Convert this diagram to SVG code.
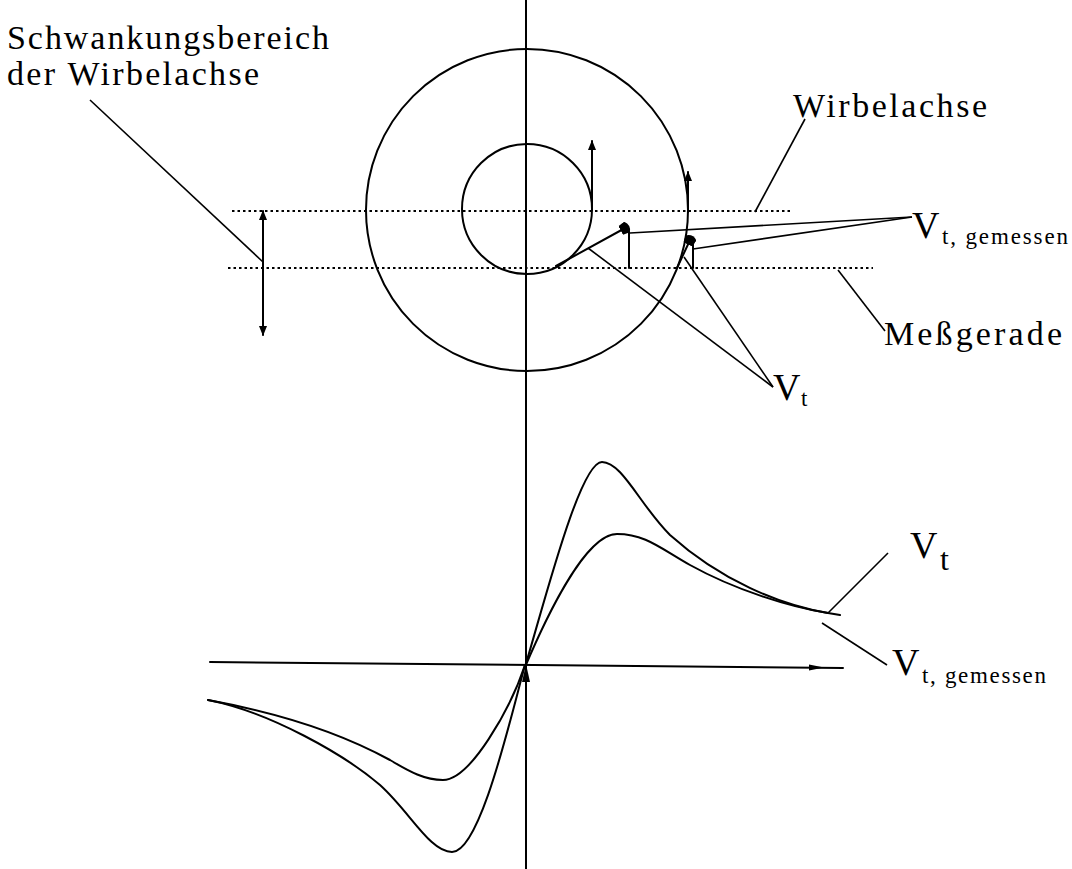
<svg xmlns="http://www.w3.org/2000/svg" width="1072" height="869" viewBox="0 0 1072 869">
<style>
  .ln{fill:none;stroke:#000;stroke-width:2;stroke-linecap:round}
  .thin{fill:none;stroke:#000;stroke-width:1.6}
  .dot{fill:none;stroke:#000;stroke-width:1.8;stroke-dasharray:2.5 3}
  .txt{font-family:"Liberation Serif","Times New Roman",serif;fill:#000}
  .lbl{font-size:34px}
  .big{font-size:38px}
  .sub{font-size:23px}
</style>
<defs>
  <marker id="ah" viewBox="0 0 10 8" refX="9" refY="4" markerWidth="10" markerHeight="8" markerUnits="userSpaceOnUse" orient="auto-start-reverse">
    <path d="M0,0 L10,4 L0,8 z" fill="#000"/>
  </marker>
  <marker id="blob" viewBox="0 0 10 10" refX="6" refY="5" markerWidth="12" markerHeight="12" markerUnits="userSpaceOnUse" orient="auto">
    <path d="M0,1 L6,0 Q10,5 6,10 L0,9 z" fill="#000"/>
  </marker>
</defs>
<rect width="1072" height="869" fill="#fff"/>

<g id="axes">
  <line class="ln" x1="526" y1="0" x2="526" y2="869" stroke-width="1.8"/>
  <path class="ln" d="M210,662 L843,668" stroke-width="2.6"/>
  <path d="M809,664.5 L824,667.5 L809,670.5 z" fill="#000"/>
  <path d="M522,682 L526,664 L530,682 z" fill="#000"/>
</g>

<g id="vortex-circles">
  <circle class="ln" cx="527" cy="210" r="161"/>
  <circle class="ln" cx="527" cy="209" r="65"/>
</g>

<g id="reference-lines">
  <line class="dot" x1="232" y1="211" x2="793" y2="211"/>
  <line class="dot" x1="228" y1="268" x2="873" y2="268"/>
</g>

<g id="fluctuation-range">
  <line class="ln" x1="263" y1="211" x2="263" y2="335" marker-start="url(#ah)" marker-end="url(#ah)"/>
</g>

<g id="velocity-vectors">
  <line class="ln" x1="592" y1="210" x2="592" y2="141" marker-end="url(#ah)"/>
  <line class="ln" x1="688" y1="212" x2="688" y2="172" marker-end="url(#ah)" stroke-width="2.6"/>
  <line class="ln" x1="556" y1="266" x2="627" y2="227" marker-end="url(#blob)"/>
  <line class="ln" x1="629" y1="232" x2="629" y2="268"/>
  <line class="ln" x1="677" y1="268" x2="691" y2="238" marker-end="url(#blob)" stroke-width="2.6"/>
  <line class="ln" x1="693" y1="243" x2="693" y2="268"/>
</g>

<g id="curve-vt">
  <path class="ln" d="M525,667 C545,600 580,462 602,462 C622,462 640,505 670,535 C720,580 780,605 828,613"/>
  <path class="ln" d="M525,665 C510,720 480,852 452,852 C430,852 410,812 380,785 C345,755 270,712 208,700"/>
</g>

<g id="curve-vt-gemessen">
  <path class="ln" d="M525,667 C545,620 585,534 617,534 C645,534 660,548 690,565 C735,590 790,607 828,613 L840,615"/>
  <path class="ln" d="M525,665 C510,710 470,780 443,780 C425,780 410,772 390,760 C350,738 290,715 208,700"/>
</g>

<g id="connectors">
  <line class="thin" x1="90" y1="100" x2="263" y2="262"/>
  <line class="thin" x1="755" y1="212" x2="805" y2="119"/>
  <line class="thin" x1="838" y1="270" x2="885" y2="331"/>
  <line class="thin" x1="630" y1="233" x2="912" y2="217"/>
  <line class="thin" x1="693" y1="249" x2="912" y2="217"/>
  <line class="thin" x1="588" y1="248" x2="773" y2="387"/>
  <line class="thin" x1="684" y1="257" x2="773" y2="387"/>
  <line class="thin" x1="828" y1="613" x2="888" y2="553"/>
  <line class="thin" x1="822" y1="623" x2="887" y2="665"/>
</g>

<g id="label-schwankungsbereich">
  <text class="txt lbl" x="7" y="49" textLength="322" lengthAdjust="spacing">Schwankungsbereich</text>
  <text class="txt lbl" x="7" y="85" textLength="252" lengthAdjust="spacing">der Wirbelachse</text>
</g>
<g id="label-wirbelachse">
  <text class="txt lbl" x="793" y="117" textLength="194" lengthAdjust="spacing">Wirbelachse</text>
</g>
<g id="label-vt-gemessen-top">
  <text class="txt big" x="912" y="238">V</text>
  <text class="txt sub" x="942" y="244" textLength="126" lengthAdjust="spacing">t, gemessen</text>
</g>
<g id="label-messgerade">
  <text class="txt lbl" x="884" y="345" textLength="178" lengthAdjust="spacing">Meßgerade</text>
</g>
<g id="label-vt-top">
  <text class="txt big" x="773" y="400">V</text>
  <text class="txt sub" x="801" y="406">t</text>
</g>
<g id="label-vt-bottom">
  <text class="txt big" x="910" y="558">V</text>
  <text class="txt" x="940" y="570" font-size="32">t</text>
</g>
<g id="label-vt-gemessen-bottom">
  <text class="txt big" x="892" y="675">V</text>
  <text class="txt sub" x="922" y="683" textLength="124" lengthAdjust="spacing">t, gemessen</text>
</g>
</svg>
